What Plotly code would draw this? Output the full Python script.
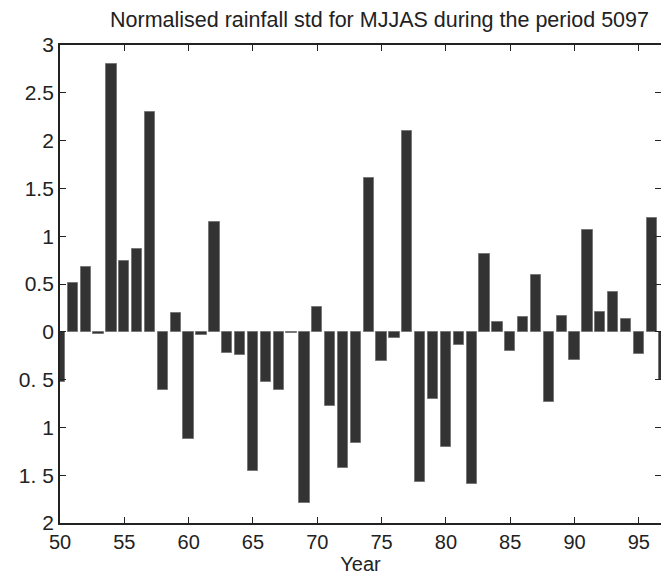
import plotly.graph_objects as go

# Normalised MJJAS rainfall anomaly (std units) by year
years = list(range(50, 98))
rainfall_std = [
    -0.53, 0.51, 0.68, -0.02, 2.80, 0.74, 0.87, 2.30, -0.61, 0.20,
    -1.12, -0.03, 1.15, -0.22, -0.24, -1.46, -0.52, -0.61, -0.01, -1.79,
    0.26, -0.78, -1.42, -1.16, 1.61, -0.31, -0.07, 2.10, -1.57, -0.70,
    -1.21, -0.14, -1.59, 0.81, 0.10, -0.20, 0.16, 0.59, -0.73, 0.17,
    -0.30, 1.07, 0.21, 0.42, 0.13, -0.235, 1.19, -0.50,
]

x_ticks = [50, 55, 60, 65, 70, 75, 80, 85, 90, 95]
y_ticks = [3, 2.5, 2, 1.5, 1, 0.5, 0, -0.5, -1, -1.5, -2]
y_tick_text = ["3", "2.5", "2", "1.5", "1", "0.5", "0", "0. 5", "1", "1. 5", "2"]

title_text = "Normalised rainfall std for MJJAS during the period 5097"

family = "Liberation Sans, Arial, sans-serif"
font = dict(family=family, size=20, color="#222222")
ytick_font = dict(family=family, size=21, color="#222222")

fig = go.Figure()
fig.add_trace(go.Bar(
    x=years,
    y=rainfall_std,
    width=0.8,
    marker=dict(color="#333333", line=dict(color="#777777", width=1)),
    showlegend=False,
))
# invisible trace to carry the right-hand tick marks
fig.add_trace(go.Scatter(x=[years[0]], y=[0], yaxis="y2", mode="markers",
                         marker=dict(opacity=0), showlegend=False, hoverinfo="skip"))

fig.update_layout(
    width=661,
    height=576,
    margin=dict(l=60, r=0, t=45, b=53),
    paper_bgcolor="white",
    plot_bgcolor="white",
    font=font,
    bargap=0,
    xaxis=dict(
        range=[50, 96.72],
        tickvals=x_ticks,
        ticks="inside",
        ticklen=6,
        tickwidth=1,
        tickcolor="#222222",
        showline=True,
        linecolor="#222222",
        linewidth=1.8,
        mirror="ticks",
        showgrid=False,
        zeroline=False,
        tickfont=font,
        title=dict(text="Year", font=font, standoff=2),
    ),
    yaxis=dict(
        range=[-2, 3],
        tickvals=y_ticks,
        ticktext=y_tick_text,
        ticks="inside",
        ticklen=6,
        tickwidth=1,
        tickcolor="#222222",
        showline=True,
        linecolor="#222222",
        linewidth=1.8,
        showgrid=False,
        zeroline=False,
        tickfont=ytick_font,
        ticklabelstandoff=0,
    ),
    yaxis2=dict(
        range=[-2, 3],
        tickvals=y_ticks,
        overlaying="y",
        side="right",
        showticklabels=False,
        ticks="inside",
        ticklen=6,
        tickwidth=1,
        tickcolor="#222222",
        showline=False,
        showgrid=False,
        zeroline=False,
    ),
    annotations=[dict(
        text=title_text,
        xref="paper", yref="paper",
        x=0.531, y=1.0, yshift=25,
        xanchor="center", yanchor="middle",
        showarrow=False,
        font=dict(family=family, size=21.5, color="#222222"),
    )],
)

fig.write_html("out.html")
